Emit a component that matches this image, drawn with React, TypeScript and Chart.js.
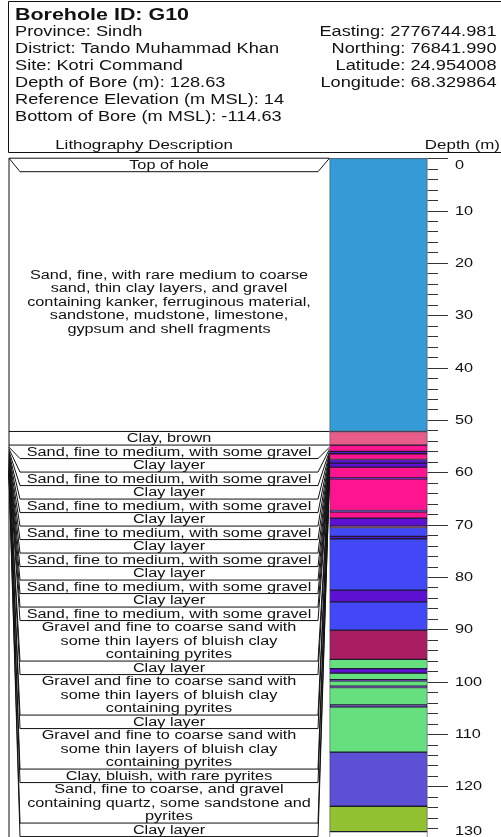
import React, { useEffect, useRef } from "react";
import { Chart, registerables } from "chart.js";

Chart.register(...registerables);

const CANVAS_W = 501;
const CANVAS_H = 850;
const VIEW_H = 837;

const FONT = '"Liberation Sans", Arial, Helvetica, sans-serif';
const STRETCH = 1.3;

// Borehole header
const boreholeId = "Borehole ID: G10";
const siteInfo = [
  "Province: Sindh",
  "District: Tando Muhammad Khan",
  "Site: Kotri Command",
  "Depth of Bore (m): 128.63",
  "Reference Elevation (m MSL): 14",
  "Bottom of Bore (m MSL): -114.63",
];
const coordInfo = [
  "Easting: 2776744.981",
  "Northing: 76841.990",
  "Latitude: 24.954008",
  "Longitude: 68.329864",
];

// Strata in the bore column (depth in m)
const strataTop = [
  0, 52.2, 54.8, 56.0, 56.45, 57.55, 58.25, 59.0, 61.05, 61.25, 67.3, 67.55,
  68.75, 70.3, 70.55, 72.25, 72.7, 82.5, 84.75, 90.15, 95.75, 97.5, 98.35,
  99.6, 99.85, 100.85, 101.1, 104.45, 104.8, 113.45, 123.8, 128.63,
];
const strataBottom = [
  52.2, 54.8, 56.0, 56.45, 57.55, 58.25, 59.0, 61.05, 61.25, 67.3, 67.55,
  68.75, 70.3, 70.55, 72.25, 72.7, 82.5, 84.75, 90.15, 95.75, 97.5, 98.35,
  99.6, 99.85, 100.85, 101.1, 104.45, 104.8, 113.45, 123.8, 128.63, 131,
];
const strataColor = [
  "#349BD6", "#E95D8B", "#FF148F", "#5E10D2", "#FF148F", "#5E10D2",
  "#5E10D2", "#FF148F", "#5E10D2", "#FF148F", "#5E10D2", "#FF148F",
  "#5E10D2", "#A81C62", "#4248F5", "#5E10D2", "#4248F5", "#5E10D2",
  "#4248F5", "#A81C62", "#66E07E", "#5E10D2", "#66E07E", "#5E10D2",
  "#66E07E", "#5E10D2", "#66E07E", "#5E10D2", "#66E07E", "#5C50D5",
  "#92C132", "#FFFFFF",
];

// Lithology descriptions, one row each, top to bottom
const SAND_GRAVEL = ["Sand, fine to medium, with some gravel"];
const CLAY_LAYER = ["Clay layer"];
const GRAVEL_SAND = [
  "Gravel and fine to coarse sand with",
  "some thin layers of bluish clay",
  "containing pyrites",
];
const descriptions: string[][] = [
  ["Top of hole"],
  [
    "Sand, fine, with rare medium to coarse",
    "sand, thin clay layers, and gravel",
    "containing kanker, ferruginous material,",
    "sandstone, mudstone, limestone,",
    "gypsum and shell fragments",
  ],
  ["Clay, brown"],
  SAND_GRAVEL, CLAY_LAYER, SAND_GRAVEL, CLAY_LAYER, SAND_GRAVEL, CLAY_LAYER,
  SAND_GRAVEL, CLAY_LAYER, SAND_GRAVEL, CLAY_LAYER, SAND_GRAVEL, CLAY_LAYER,
  SAND_GRAVEL,
  GRAVEL_SAND, CLAY_LAYER, GRAVEL_SAND, CLAY_LAYER, GRAVEL_SAND,
  ["Clay, bluish, with rare pyrites"],
  [
    "Sand, fine to coarse, and gravel",
    "containing quartz, some sandstone and",
    "pyrites",
  ],
  CLAY_LAYER,
];
// Depth on the column that each row boundary is tied to (one more than rows)
const descBoundaryDepth = [
  0, 0, 52.2, 54.8, 55.2, 55.55, 55.95, 56.3, 56.6, 56.9, 57.25, 57.55, 57.85,
  58.15, 58.4, 58.7, 59.0, 59.25, 59.45, 59.65, 59.85, 60.05, 60.25, 60.4,
  60.6,
];

// Depth axis
const depthMin = 0;
const depthMax = 130;
const majorTickDepths = [0, 10, 20, 30, 40, 50, 60, 70, 80, 90, 100, 110, 120, 130];
const minorTickStep = 2;

// Layout (px)
const COL_LEFT = 329.5;
const COL_RIGHT = 427.5;
const PLOT_TOP = 158.2;
const PLOT_BOTTOM = 838.75;
const FRAME_X = 9;
const INNER_L = 20;
const INNER_R = 318;
const LINE_H = 13.5;
const TEXT_CX = 169;

function drawText(
  ctx: CanvasRenderingContext2D,
  s: string,
  x: number,
  y: number,
  font: string,
  align: CanvasTextAlign
) {
  ctx.save();
  ctx.font = font;
  ctx.textAlign = align;
  ctx.textBaseline = "middle";
  ctx.translate(x, y);
  ctx.scale(STRETCH, 1);
  ctx.fillText(s, 0, 0);
  ctx.restore();
}

const logPlugin = {
  id: "boreLog",
  afterDraw(chart: Chart) {
    const ctx = chart.ctx;
    const ys = chart.scales.y;
    const py = (d: number) => ys.getPixelForValue(d);

    ctx.save();
    ctx.fillStyle = "#111";
    ctx.strokeStyle = "#111";
    ctx.lineWidth = 1;

    // header box
    ctx.beginPath();
    ctx.moveTo(CANVAS_W, 1.5);
    ctx.lineTo(8.5, 1.5);
    ctx.lineTo(8.5, 152.5);
    ctx.lineTo(CANVAS_W, 152.5);
    ctx.stroke();

    drawText(ctx, boreholeId, 15, 15, `bold 16.5px ${FONT}`, "left");
    siteInfo.forEach((s, i) => drawText(ctx, s, 15, 32.5 + i * 17, `14px ${FONT}`, "left"));
    coordInfo.forEach((s, i) => drawText(ctx, s, 496.5, 32.5 + i * 17, `14px ${FONT}`, "right"));
    drawText(ctx, "Lithography Description", 144, 145.5, `13px ${FONT}`, "center");
    drawText(ctx, "Depth (m)", 500, 145.5, `13px ${FONT}`, "right");

    // description rows stacked below the top of the hole
    const rowY: number[] = [py(descBoundaryDepth[0])];
    descriptions.forEach((lines, k) => {
      const top = rowY[k];
      rowY.push(Math.max(top + lines.length * LINE_H, py(descBoundaryDepth[k + 1])));
    });

    // outer frame
    ctx.beginPath();
    ctx.moveTo(FRAME_X, py(depthMin));
    ctx.lineTo(FRAME_X, CANVAS_H);
    ctx.stroke();

    // row boundaries and connectors to the column
    descBoundaryDepth.forEach((d, j) => {
      const yd = py(d);
      const yl = rowY[j];
      ctx.beginPath();
      if (Math.abs(yd - yl) < 0.5) {
        ctx.moveTo(FRAME_X, yd);
        ctx.lineTo(COL_LEFT, yd);
      } else {
        ctx.moveTo(FRAME_X, yd);
        ctx.lineTo(INNER_L, yl);
        ctx.lineTo(INNER_R, yl);
        ctx.lineTo(COL_LEFT, yd);
      }
      ctx.stroke();
    });

    // description text
    descriptions.forEach((lines, k) => {
      const cy = (rowY[k] + rowY[k + 1]) / 2;
      lines.forEach((s, i) => {
        const y = cy + (i - (lines.length - 1) / 2) * LINE_H;
        drawText(ctx, s, TEXT_CX, y + 0.5, `12.5px ${FONT}`, "center");
      });
    });

    // depth ticks
    ctx.strokeStyle = "#333";
    for (let d = depthMin; d <= depthMax; d += minorTickStep) {
      const y = Math.round(py(d)) + 0.5;
      const major = majorTickDepths.includes(d);
      ctx.beginPath();
      ctx.moveTo(COL_RIGHT, y);
      ctx.lineTo(major ? 448 : 438, y);
      ctx.stroke();
    }
    // tick labels are kept inside the drawn depth range
    majorTickDepths.forEach((d) => {
      const y = Math.min(Math.max(py(d), PLOT_TOP + 7), VIEW_H - 5.5);
      drawText(ctx, String(d), 455, y + 0.5, `12.5px ${FONT}`, "left");
    });

    ctx.restore();
  },
};

export default function App() {
  const ref = useRef<HTMLCanvasElement | null>(null);

  useEffect(() => {
    if (!ref.current) return;
    const chart = new Chart(ref.current, {
      type: "bar",
      data: {
        labels: ["G10"],
        datasets: strataTop.map((t, i) => ({
          data: [[t, strataBottom[i]]] as any,
          backgroundColor: strataColor[i],
          borderColor: "#1c1c30",
          borderWidth: 1,
          borderSkipped: false,
          grouped: false,
          barPercentage: 1,
          categoryPercentage: 1,
        })),
      },
      options: {
        animation: false,
        responsive: false,
        maintainAspectRatio: false,
        devicePixelRatio: 1,
        layout: {
          padding: {
            left: COL_LEFT,
            right: CANVAS_W - COL_RIGHT,
            top: PLOT_TOP,
            bottom: CANVAS_H - PLOT_BOTTOM,
          },
        },
        plugins: { legend: { display: false }, tooltip: { enabled: false } },
        scales: {
          x: { display: false },
          y: { display: false, reverse: true, min: depthMin, max: depthMax },
        },
      },
      plugins: [logPlugin],
    });
    return () => chart.destroy();
  }, []);

  return (
    <div
      style={{
        position: "absolute",
        left: 0,
        top: 0,
        width: CANVAS_W,
        height: VIEW_H,
        overflow: "hidden",
        background: "#fff",
      }}
    >
      <canvas
        ref={ref}
        width={CANVAS_W}
        height={CANVAS_H}
        style={{ width: CANVAS_W, height: CANVAS_H, display: "block" }}
      />
    </div>
  );
}
